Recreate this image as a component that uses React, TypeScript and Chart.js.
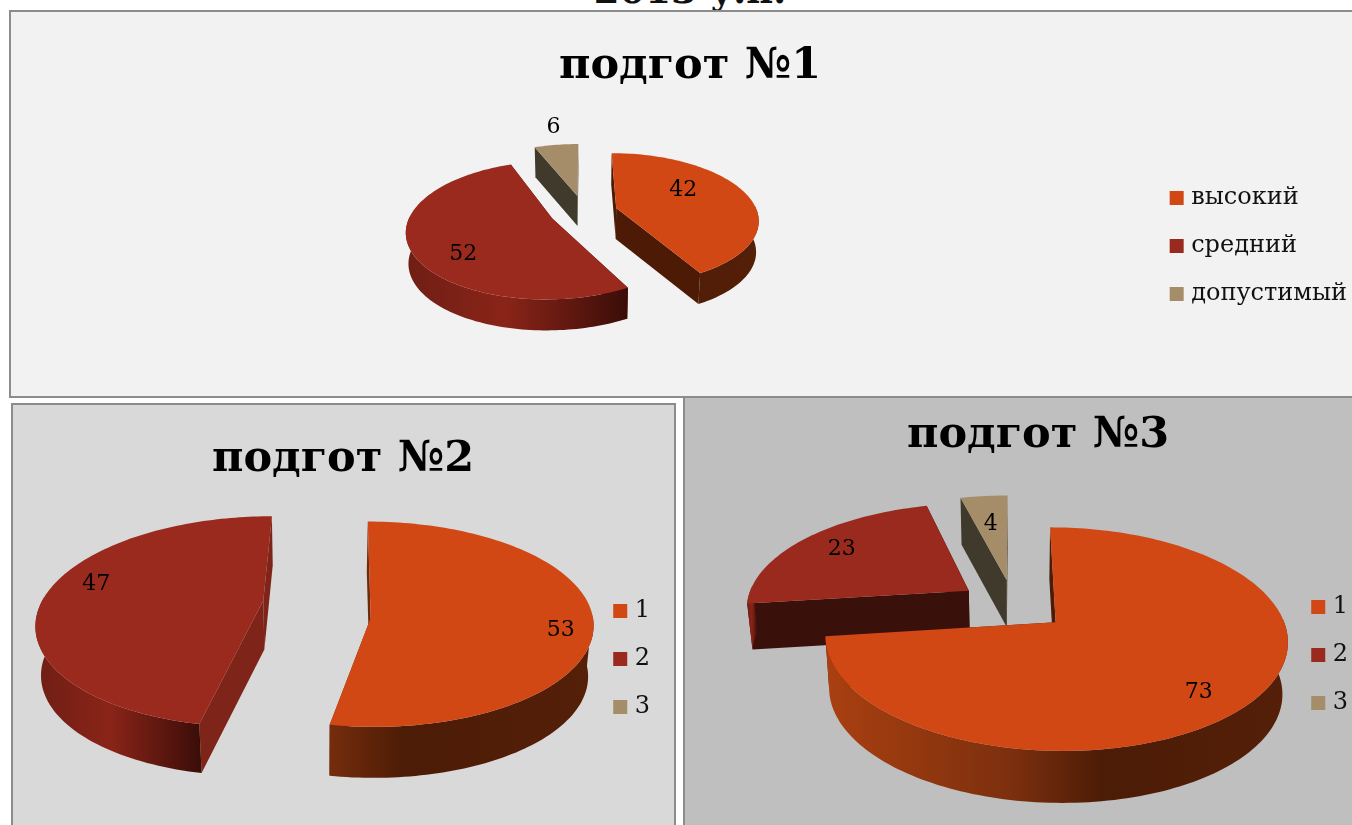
import React, { useEffect, useRef } from "react";
import { Chart, registerables } from "chart.js";

Chart.register(...registerables);

const pageHeading = "2013 у.п.";
const titleOne = "подгот №1";
const titleTwo = "подгот №2";
const titleThree = "подгот №3";
const categoriesOne = ["высокий", "средний", "допустимый"];
const categoriesNumbered = ["1", "2", "3"];
const valuesOne = [42, 52, 6];
const valuesTwo = [53, 47, 0];
const valuesThree = [73, 23, 4];

const topColors = ["#d24815", "#9a2a1e", "#a48d68"];
const SERIF = "'DejaVu Serif', serif";

type View = {
  title: string; labels: string[]; values: number[];
  box: [number, number, number, number];
  titleSize: number; titlePad: { top: number; bottom: number };
  legendSize: number; legendGap: number;
  shift: [number, number]; rx: number; ry: number; k: number[]; explode: number;
  depth: number[]; baseScale: number; faces: string[]; nudge: [number, number][];
  labelAt: [number, number][];
};

const views: View[] = [
  {
    title: titleOne, labels: categoriesOne, values: valuesOne,
    box: [23, 12, 1334, 468], titleSize: 43, titlePad: { top: 29, bottom: 18 },
    legendSize: 24, legendGap: 24,
    shift: [-3, -83.5], rx: 141, ry: 65, k: [0.165, 0.165, 0.165], explode: 34,
    depth: [31, 31, 30], baseScale: 0.985, faces: ["#4c1a05", "#4a130c", "#403a2c"],
    nudge: [[0, 0], [0, 0], [0, -1]],
    labelAt: [[67, -18], [-89, 36], [-24, -69]],
  },
  {
    title: titleTwo, labels: categoriesNumbered, values: valuesTwo,
    box: [26, 404, 634, 510], titleSize: 43, titlePad: { top: 30, bottom: 18 },
    legendSize: 24, legendGap: 24,
    shift: [7, -100], rx: 222, ry: 102, k: [0.06, 0.2, 0.1], explode: 52,
    depth: [51, 49, 49], baseScale: 0.98, faces: ["#6e2a0c", "#7e2418", "#403a2c"],
    nudge: [[2, 7], [-2, -6], [0, 0]],
    labelAt: [[190, 12], [-167, -16], [0, 0]],
  },
  {
    title: titleThree, labels: categoriesNumbered, values: valuesThree,
    box: [718, 397, 640, 516], titleSize: 43, titlePad: { top: 13, bottom: 18 },
    legendSize: 24, legendGap: 24,
    shift: [8.5, -91.5], rx: 223, ry: 104, k: [0.148, 0.148, 0.148], explode: 55,
    depth: [52, 46, 47], baseScale: 0.98, faces: ["#4c1a05", "#3a100a", "#403a2c"],
    nudge: [[0, 0], [0, 0], [0, 0]],
    labelAt: [[143, 70], [-127, -41], [-16, -56]],
  },
];

const orangeWall: [number, string][] = [[0, "#cc4a12"], [0.2, "#a43e10"], [0.5, "#7c2f0e"], [0.66, "#4c1c06"], [1, "#551f08"]];
const redWall: [number, string][] = [[0, "#6f1e15"], [0.45, "#8a2418"], [1, "#3a0d08"]];
const tanWall: [number, string][] = [[0, "#6f6249"], [1, "#403a2c"]];

const pie3d = (view: View) => ({
  id: "pie3d",
  beforeDatasetsDraw(chart: any) {
    const { ctx } = chart;
    const meta = chart.getDatasetMeta(0);
    const arcs = meta.data;
    const cx = arcs[0].x + view.shift[0];
    const cy = arcs[0].y + view.shift[1];
    const e = view.explode / view.rx;
    const pieLeft = cx - view.rx - view.explode;
    const pieRight = cx + view.rx + view.explode;

    const slices = arcs.map((arc: any, i: number) => {
      const mid = (arc.startAngle + arc.endAngle) / 2;
      const au = e * Math.cos(mid);
      const av = e * Math.sin(mid);
      const k = view.k[i];
      const [nx, ny] = view.nudge[i];
      const project = (u: number, v: number, low: boolean) => {
        const w = 1 / (1 - k * v);
        let x = view.rx * u * w;
        let y = view.ry * v * w;
        if (low) { x *= view.baseScale; y += view.depth[i]; }
        return [cx + x + nx, cy + y + ny];
      };
      const rim = (t: number, low: boolean) => project(au + Math.cos(t), av + Math.sin(t), low);
      const apex = (low: boolean) => project(au, av, low);
      const steps = Math.max(8, Math.ceil((arc.endAngle - arc.startAngle) * 40));
      const angles: number[] = [];
      for (let s = 0; s <= steps; s++) angles.push(arc.startAngle + ((arc.endAngle - arc.startAngle) * s) / steps);
      return { arc, i, rim, apex, angles, visible: chart.data.datasets[0].data[i] > 0 };
    });

    const poly = (pts: number[][], fill: any) => {
      ctx.beginPath();
      pts.forEach((p, n) => (n ? ctx.lineTo(p[0], p[1]) : ctx.moveTo(p[0], p[1])));
      ctx.closePath();
      ctx.fillStyle = fill;
      ctx.fill();
    };

    slices.filter((s: any) => s.visible).forEach((s: any) => {
      const { i, rim, apex, angles, arc } = s;
      poly([apex(false), rim(arc.startAngle, false), rim(arc.startAngle, true), apex(true)], view.faces[i]);
      poly([apex(false), rim(arc.endAngle, false), rim(arc.endAngle, true), apex(true)], view.faces[i]);
      const front = angles.filter((t: number) => Math.sin(t) > -0.05);
      if (front.length > 1) {
        const up = front.map((t: number) => rim(t, false));
        const down = front.map((t: number) => rim(t, true)).reverse();
        const xs = up.concat(down).map((p: number[]) => p[0]);
        const x0 = i === 0 ? pieLeft : Math.min(...xs);
        const x1 = i === 0 ? pieRight : Math.max(...xs);
        const grad = ctx.createLinearGradient(x0, 0, x1, 0);
        (i === 0 ? orangeWall : i === 1 ? redWall : tanWall).forEach(([o, c]) => grad.addColorStop(o, c));
        poly(up.concat(down), grad);
      }
    });

    slices.filter((s: any) => s.visible).forEach((s: any) => {
      const { rim, apex, angles, arc } = s;
      poly([apex(false), ...angles.map((t: number) => rim(t, false))], arc.options.backgroundColor);
    });

    ctx.save();
    ctx.fillStyle = "#000";
    ctx.font = `22px ${SERIF}`;
    ctx.textAlign = "center";
    ctx.textBaseline = "middle";
    slices.filter((s: any) => s.visible).forEach((s: any) => {
      const [ax, ay] = s.apex(false);
      const [dx, dy] = view.labelAt[s.i];
      ctx.fillText(String(chart.data.datasets[0].data[s.i]), ax + dx, ay + dy);
    });
    ctx.restore();
    return false;
  },
});

function PieChart({ view }: { view: View }) {
  const ref = useRef<HTMLCanvasElement>(null);
  useEffect(() => {
    const chart = new Chart(ref.current as HTMLCanvasElement, {
      type: "pie",
      data: {
        labels: view.labels,
        datasets: [{ data: view.values, backgroundColor: topColors, borderWidth: 0 }],
      },
      options: {
        responsive: false,
        animation: false,
        layout: { padding: 0 },
        plugins: {
          tooltip: { enabled: false },
          title: {
            display: true,
            text: view.title,
            color: "#000",
            font: { family: SERIF, size: view.titleSize, weight: "bold" },
            padding: view.titlePad,
          },
          legend: {
            position: "right",
            labels: {
              usePointStyle: true,
              pointStyle: "rect",
              boxWidth: 5,
              boxHeight: 14,
              padding: view.legendGap,
              color: "#111",
              font: { family: SERIF, size: view.legendSize },
            },
          },
        },
      },
      plugins: [pie3d(view)],
    } as any);
    return () => chart.destroy();
  }, [view]);
  const [left, top, width, height] = view.box;
  return <canvas ref={ref} width={width} height={height} style={{ position: "absolute", left, top, width, height }} />;
}

const panel = (left: number, top: number, width: number, height: number, background: string): React.CSSProperties => ({
  position: "absolute", left, top, width, height, background,
  border: "2px solid #8c8c8c", boxSizing: "border-box",
});

export default function App() {
  return (
    <div style={{ position: "fixed", left: 0, top: 0, width: 1352, height: 825, overflow: "hidden", background: "#fff" }}>
      <div style={{ position: "absolute", left: 540, width: 300, top: -30, textAlign: "center", font: `bold 37px/40px ${SERIF}`, color: "#111" }}>{pageHeading}</div>
      <div style={panel(9, 10, 1400, 388, "#f2f2f2")} />
      <div style={panel(11, 403, 665, 500, "#d9d9d9")} />
      <div style={panel(683, 396, 700, 500, "#bfbfbf")} />
      {views.map((view) => <PieChart key={view.title} view={view} />)}
    </div>
  );
}
